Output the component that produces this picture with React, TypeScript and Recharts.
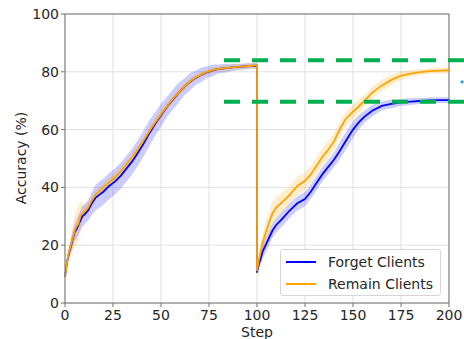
import React from 'react';
import {
  ComposedChart,
  Line,
  Area,
  XAxis,
  YAxis,
  CartesianGrid,
  ReferenceLine,
  ReferenceDot,
  Legend,
} from 'recharts';

// Steps (x = 100 appears twice: before and after the drop)
const steps = [
  0, 1, 2, 3, 4, 5, 6, 7, 8, 9, 10,
  12, 14, 16, 18, 20,
  23, 26, 29, 32, 35, 38, 41, 44, 47, 50,
  53, 56, 59, 62, 65, 68, 71, 74, 77, 80,
  84, 88, 92, 96, 100,
  100, 101, 102, 103, 105, 108, 110, 113, 117, 121,
  125, 128, 131, 134, 137, 140, 143, 146, 150, 153,
  156, 160, 165, 170, 175, 180, 185, 190, 195, 200,
];

const forgetMean = [
  9, 14, 17, 19.5, 22, 24.5, 25.5, 27, 28.5, 30, 30.5,
  32, 34.5, 36.5, 37.5, 38.5,
  40.5, 42, 44, 46.5, 49, 52, 55.3, 58.8, 62, 65,
  67.8, 70.3, 72.6, 74.7, 76.5, 77.9, 79, 79.9, 80.5, 81,
  81.3, 81.6, 81.8, 82, 82.1,
  10.5, 13.5, 15.5, 18, 20.7, 25, 27, 29, 32, 34.5,
  36, 38.5, 41.5, 44.5, 47, 49.5, 52.5, 55.8, 60, 62.5,
  64.5, 66.5, 68.2, 68.9, 69.4, 69.7, 69.9, 70.1, 70.2, 70.2,
];

const forgetSpread = [
  1, 1.5, 2, 2.5, 3, 3, 3.5, 3.5, 3.5, 3.5, 3.5,
  3.5, 4, 4.5, 4.5, 4.5,
  4.5, 4.5, 4.5, 4.5, 4.5, 4.5, 4.5, 4.5, 4, 4,
  3.5, 3.5, 3.5, 3, 3, 2.5, 2.5, 2, 2, 1.5,
  1.5, 1.2, 1, 1, 1,
  0.5, 1.5, 2, 2.5, 2.5, 2.5, 2.5, 2.5, 2.5, 2.5,
  2.5, 2.5, 2.5, 2.5, 2.5, 2.5, 3, 3, 3, 2.5,
  2, 2, 1.5, 1.5, 1.2, 1.2, 1, 1, 1, 1,
];

const remainMean = [
  9, 14, 17.5, 20, 22.5, 25, 26.5, 27.5, 30, 31, 31.5,
  33, 35.5, 37.5, 38.8, 40,
  41.8, 43.5, 45.5, 48, 50.5, 53.2, 56.3, 59.5, 62.5, 65.3,
  68, 70.5, 72.7, 74.8, 76.6, 78, 79.1, 80, 80.6, 81,
  81.3, 81.6, 81.8, 82, 82.2,
  11, 15, 18, 21, 25.3, 31, 33, 34.8, 37.4, 40.5,
  42.3, 44.5, 47.5, 50.5, 53, 55.8, 60, 63.5, 66.2, 68,
  70, 72.8, 75.3, 77.2, 78.7, 79.4, 79.9, 80.2, 80.4, 80.6,
];

const remainSpread = [
  0.5, 1.5, 2.5, 3.5, 4.5, 5.5, 6, 6, 5, 3.5, 2.5,
  2, 1.5, 1.5, 1.5, 1.5,
  1.5, 1.5, 1.5, 1.5, 1.5, 1.5, 1.5, 1.5, 1.5, 1.5,
  1.5, 1.5, 1.5, 1.5, 1.2, 1.2, 1, 1, 1, 1,
  1, 1, 1, 1, 1,
  0.5, 2, 3, 3.5, 4, 4, 3.5, 3.5, 3, 3,
  3, 3, 3, 3, 3, 3, 2.5, 2.5, 2.5, 2.5,
  2, 2, 2, 1.8, 1.5, 1.2, 1, 1, 1, 1,
];

const xTicks = [0, 25, 50, 75, 100, 125, 150, 175, 200];
const yTicks = [0, 20, 40, 60, 80, 100];

const thresholdHigh = 84;
const thresholdLow = 69.6;
const thresholdStart = 82.8;
const thresholdEnd = 209;

const seriesNames = ['Forget Clients', 'Remain Clients'];
const BLUE = '#0000ff';
const ORANGE = '#ffa500';
const GREEN = '#00b050';
const FONT = '"DejaVu Sans", sans-serif';

const data = steps.map((x, i) => ({
  x,
  forget: forgetMean[i],
  remain: remainMean[i],
  forgetBand: [forgetMean[i] - forgetSpread[i], forgetMean[i] + forgetSpread[i]],
  remainBand: [remainMean[i] - remainSpread[i], remainMean[i] + remainSpread[i]],
}));

const LegendBox = () => (
  <div
    style={{
      width: 159,
      height: 45,
      border: '1px solid #d6d6d6',
      borderRadius: 3,
      background: 'rgba(255,255,255,0.85)',
      fontFamily: FONT,
      fontSize: 14,
      color: '#262626',
      position: 'relative',
    }}
  >
    {seriesNames.map((name, i) => (
      <div
        key={name}
        style={{
          position: 'absolute',
          left: 5,
          top: 3 + i * 21.5,
          height: 18,
          display: 'flex',
          alignItems: 'center',
          whiteSpace: 'nowrap',
        }}
      >
        <div style={{ width: 30, height: 2, background: i === 0 ? BLUE : ORANGE, marginRight: 12 }} />
        <span>{name}</span>
      </div>
    ))}
  </div>
);

export default function App() {
  return (
    <div style={{ position: 'absolute', left: 0, top: 0, width: 464, height: 339, background: '#fff' }}>
      <ComposedChart
        width={464}
        height={339}
        data={data}
        margin={{ top: 14, right: 15, bottom: 0, left: 0 }}
      >
        <CartesianGrid stroke="#e0e0e0" strokeWidth={1} />
        <XAxis
          dataKey="x"
          type="number"
          domain={[0, 200]}
          ticks={xTicks}
          height={36}
          tickSize={4}
          tickMargin={3}
          stroke="#707070"
          tick={{ fill: '#262626', fontSize: 14, fontFamily: FONT }}
          label={{
            content: () => (
              <text x={257} y={337} textAnchor="middle" fill="#262626" fontSize={14} fontFamily={FONT}>
                Step
              </text>
            ),
          }}
        />
        <YAxis
          type="number"
          domain={[0, 100]}
          ticks={yTicks}
          width={65}
          tickSize={4}
          tickMargin={2}
          stroke="#707070"
          tick={{ fill: '#262626', fontSize: 14, fontFamily: FONT }}
          label={{
            content: () => (
              <text
                x={26}
                y={158}
                transform="rotate(-90 26 158)"
                textAnchor="middle"
                fill="#262626"
                fontSize={14}
                fontFamily={FONT}
              >
                Accuracy (%)
              </text>
            ),
          }}
        />
        <ReferenceLine y={100} stroke="#707070" />
        <ReferenceLine x={200} stroke="#707070" />
        <Area
          dataKey="forgetBand"
          stroke="none"
          fill={BLUE}
          fillOpacity={0.2}
          dot={false}
          activeDot={false}
          isAnimationActive={false}
          legendType="none"
        />
        <Area
          dataKey="remainBand"
          stroke="none"
          fill={ORANGE}
          fillOpacity={0.2}
          dot={false}
          activeDot={false}
          isAnimationActive={false}
          legendType="none"
        />
        <Line
          dataKey="forget"
          name={seriesNames[0]}
          stroke={BLUE}
          strokeWidth={1.8}
          dot={false}
          activeDot={false}
          type="linear"
          isAnimationActive={false}
        />
        <Line
          dataKey="remain"
          name={seriesNames[1]}
          stroke={ORANGE}
          strokeWidth={1.8}
          dot={false}
          activeDot={false}
          type="linear"
          isAnimationActive={false}
        />
        <ReferenceLine
          segment={[{ x: thresholdStart, y: thresholdHigh }, { x: thresholdEnd, y: thresholdHigh }]}
          stroke={GREEN}
          strokeWidth={4}
          strokeDasharray="16 12"
          ifOverflow="visible"
        />
        <ReferenceLine
          segment={[{ x: thresholdStart, y: thresholdLow }, { x: thresholdEnd, y: thresholdLow }]}
          stroke={GREEN}
          strokeWidth={4}
          strokeDasharray="16 12"
          ifOverflow="visible"
        />
        <ReferenceDot x={206.8} y={76.5} r={1.6} fill="#2a9fd8" stroke="none" ifOverflow="visible" />
        <Legend
          layout="vertical"
          align="center"
          verticalAlign="middle"
          content={() => <LegendBox />}
          wrapperStyle={{ left: 280, top: 249, width: 161, height: 47 }}
        />
      </ComposedChart>
    </div>
  );
}
